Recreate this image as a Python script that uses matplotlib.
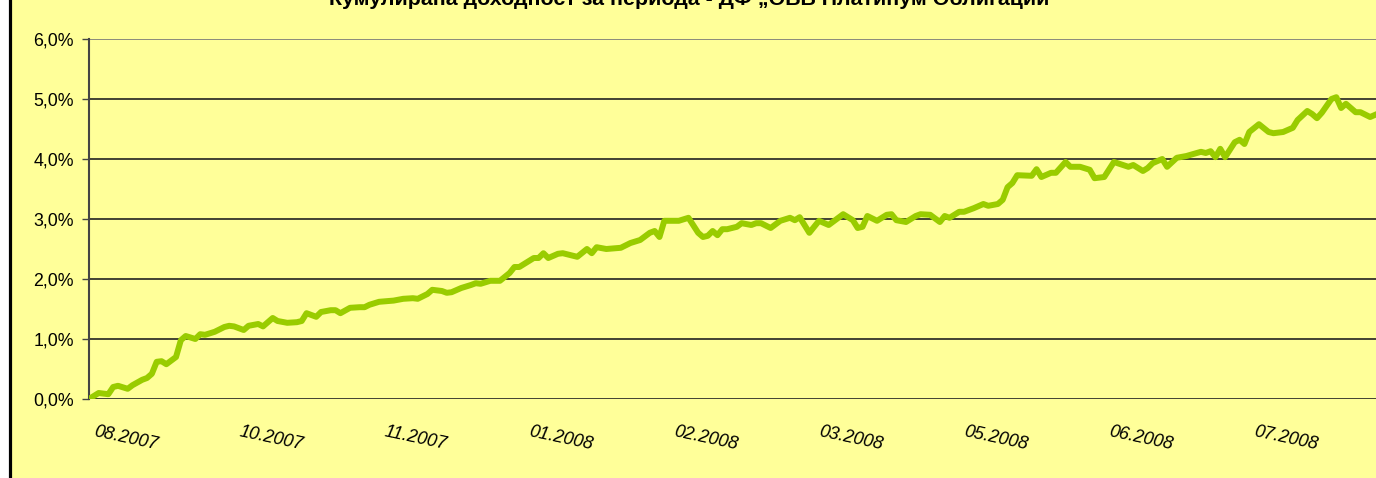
import numpy as np
import matplotlib.pyplot as plt
import matplotlib.transforms as mtransforms
from matplotlib.patches import Rectangle

# trading day index and cumulative return (%)
day = [0, 2, 4, 5, 6, 8, 9, 11, 12, 13, 14, 15, 16, 18, 19, 20, 22, 23, 24, 26,
       28, 29, 30, 32, 33, 35, 36, 38, 39, 41, 43, 44, 45, 47, 48, 50, 51, 52, 54, 56,
       57, 58, 60, 63, 65, 67, 68, 70, 71, 73, 74, 75, 77, 79, 80, 81, 83, 85, 87, 88,
       89, 92, 93, 94, 95, 97, 98, 101, 103, 104, 105, 107, 110, 112, 114, 116, 117, 118, 119, 122,
       124, 126, 127, 128, 129, 130, 131, 132, 134, 135, 137, 138, 139, 141, 143, 145, 146, 147, 149, 151,
       153, 156, 158, 159, 160, 161, 163, 165, 166, 167, 169, 171, 172, 174, 176, 177, 178, 180, 181, 183,
       185, 186, 188, 189, 190, 191, 192, 195, 196, 197, 199, 200, 202, 203, 205, 207, 208, 210, 212, 215,
       216, 218, 219, 220, 222, 223, 225, 227, 230, 231, 232, 233, 234, 235, 237, 238, 239, 240, 242, 244,
       245, 247, 249, 250, 252, 253, 254, 255, 257, 258, 259, 260, 262, 263, 265, 267, 268, 269, 270]
ret = [0.00, 0.10, 0.08, 0.20, 0.22, 0.17, 0.23, 0.32, 0.35, 0.42, 0.62, 0.63, 0.58, 0.70, 0.98, 1.05, 1.00, 1.08, 1.07, 1.12,
       1.20, 1.22, 1.21, 1.15, 1.22, 1.25, 1.21, 1.35, 1.30, 1.27, 1.28, 1.30, 1.43, 1.37, 1.45, 1.48, 1.48, 1.43, 1.52, 1.53,
       1.53, 1.57, 1.62, 1.64, 1.67, 1.68, 1.67, 1.75, 1.82, 1.80, 1.77, 1.78, 1.85, 1.90, 1.93, 1.92, 1.97, 1.97, 2.10, 2.20,
       2.20, 2.35, 2.35, 2.43, 2.35, 2.42, 2.43, 2.37, 2.50, 2.43, 2.53, 2.50, 2.52, 2.60, 2.65, 2.77, 2.80, 2.70, 2.97, 2.97,
       3.02, 2.77, 2.70, 2.72, 2.80, 2.73, 2.83, 2.83, 2.87, 2.93, 2.90, 2.93, 2.93, 2.85, 2.97, 3.02, 2.98, 3.03, 2.77, 2.97,
       2.90, 3.08, 2.98, 2.85, 2.87, 3.05, 2.97, 3.07, 3.08, 2.98, 2.95, 3.05, 3.08, 3.07, 2.95, 3.05, 3.02, 3.12, 3.12, 3.18,
       3.25, 3.22, 3.25, 3.32, 3.53, 3.60, 3.73, 3.72, 3.83, 3.70, 3.77, 3.77, 3.95, 3.87, 3.87, 3.82, 3.68, 3.70, 3.95, 3.87,
       3.90, 3.80, 3.85, 3.93, 4.00, 3.87, 4.02, 4.05, 4.12, 4.10, 4.13, 4.03, 4.17, 4.03, 4.28, 4.32, 4.25, 4.45, 4.58, 4.45,
       4.43, 4.45, 4.52, 4.65, 4.80, 4.75, 4.68, 4.77, 5.00, 5.03, 4.85, 4.92, 4.78, 4.78, 4.70, 4.77, 4.70, 4.87, 4.90]

month_labels = ['08.2007', '10.2007', '11.2007', '01.2008', '02.2008',
                '03.2008', '05.2008', '06.2008', '07.2008']
label_step = 30
y_ticks = [0, 1, 2, 3, 4, 5, 6]

title = 'Кумулирана доходност за периода - ДФ „ОББ Платинум Облигации“'

plt.rcParams['font.family'] = ['Liberation Sans', 'DejaVu Sans']

W, H = 1376, 478
fig = plt.figure(figsize=(W / 100, H / 100), dpi=100, facecolor='white')
fig.patches.append(Rectangle((10 / W, -0.1), 1.2, 1.3, transform=fig.transFigure,
                             facecolor='#FFFF99', edgecolor='black', linewidth=2.3, zorder=0))

ax = fig.add_axes([89 / W, 1 - 399 / H, (W - 89) / W + 0.01, (399 - 39) / H])
ax.set_zorder(2)
ax.set_facecolor('#FFFF99')
ax.plot(day, ret, color='#99CC00', linewidth=4.3, solid_joinstyle='round', zorder=3)

ax.set_xlim(0, (W - 89) / (143.5 / label_step))
ax.set_ylim(0, 6)
ax.set_yticks(y_ticks)
ax.set_yticklabels([f'{v:.1f}%'.replace('.', ',') for v in y_ticks], fontsize=12.8)
ax.tick_params(axis='y', length=5, width=1, color='#444444', pad=6)
for v in y_ticks:
    ax.axhline(v, color='#222222' if v < 6 else '#777777', linewidth=1.2, zorder=2)

ax.set_xticks([])
for s in ['top', 'right', 'bottom']:
    ax.spines[s].set_visible(False)
ax.spines['left'].set_color('#444444')
ax.spines['left'].set_linewidth(1.5)

off = mtransforms.ScaledTranslation(7 / 100, -24 / 100, fig.dpi_scale_trans)
for i, lab in enumerate(month_labels):
    ax.text(i * label_step, 0, lab, transform=ax.get_xaxis_transform() + off,
            ha='left', va='top', rotation=-12, rotation_mode='anchor',
            fontsize=13, style='italic')

fig.text(695 / W, 1 - 5 / H, title, ha='center', va='baseline',
         fontsize=15.4, fontweight='bold')

fig.savefig('out.png', dpi=100, facecolor=fig.get_facecolor())
